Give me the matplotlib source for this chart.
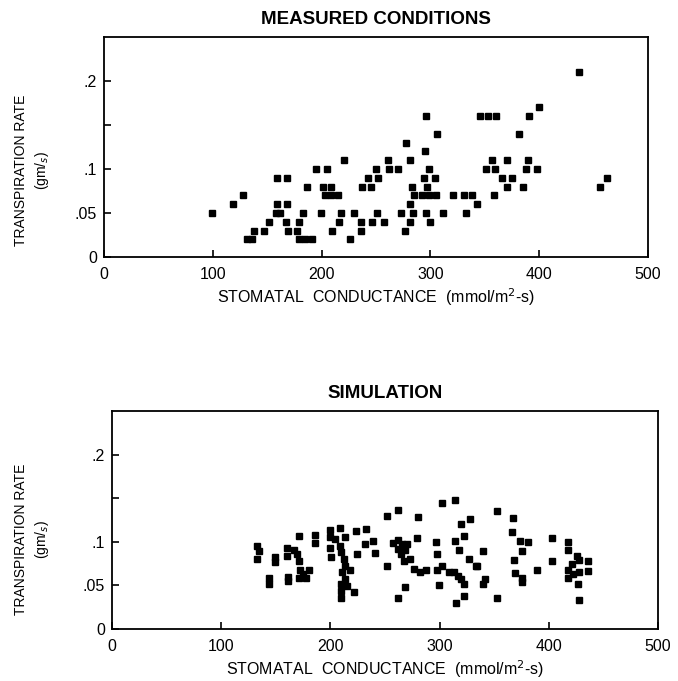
import matplotlib
matplotlib.use("Agg")
import matplotlib.pyplot as plt

plt.rcParams["font.family"] = ["Liberation Sans", "DejaVu Sans"]

# measured conditions (stomatal conductance, transpiration rate)
meas_x = [99, 119, 128, 131, 136, 138, 147, 152, 159, 168, 159, 168, 158, 162, 167, 169,
          177, 179, 183, 179, 185, 191, 187, 195, 199, 205, 201, 209, 203, 209, 215, 210,
          216, 218, 221, 226, 230, 236, 236, 237, 245, 246, 250, 243, 252, 251, 257, 261,
          262, 270, 273, 278, 277, 281, 283, 281, 284, 281, 285, 292, 299, 305, 295, 296,
          299, 294, 304, 297, 296, 300, 306, 312, 321, 331, 338, 333, 343, 346, 353, 360,
          357, 370, 351, 359, 366, 375, 370, 358, 437, 400, 391, 381, 390, 388, 398, 385,
          456, 462]
meas_y = [0.05, 0.06, 0.07, 0.02, 0.02, 0.03, 0.03, 0.04, 0.09, 0.09, 0.06, 0.06, 0.05, 0.05,
          0.04, 0.03, 0.03, 0.04, 0.05, 0.02, 0.02, 0.02, 0.08, 0.10, 0.05, 0.10, 0.08, 0.08,
          0.07, 0.07, 0.07, 0.03, 0.04, 0.05, 0.11, 0.02, 0.05, 0.04, 0.03, 0.08, 0.08, 0.04,
          0.10, 0.09, 0.09, 0.05, 0.04, 0.11, 0.10, 0.10, 0.05, 0.13, 0.03, 0.11, 0.08, 0.06,
          0.05, 0.04, 0.07, 0.07, 0.07, 0.07, 0.12, 0.16, 0.10, 0.09, 0.09, 0.08, 0.05, 0.04,
          0.14, 0.05, 0.07, 0.07, 0.07, 0.05, 0.06, 0.16, 0.16, 0.16, 0.11, 0.11, 0.10, 0.10,
          0.09, 0.09, 0.08, 0.07, 0.21, 0.17, 0.16, 0.14, 0.11, 0.10, 0.10, 0.08, 0.08, 0.09]

# simulation
sim_x = [133, 135, 133, 149, 149, 144, 144, 160, 160, 161, 161, 171, 167, 169, 171, 172,
         175, 178, 171, 180, 186, 186, 200, 209, 200, 204, 213, 200, 201, 209, 210, 212,
         213, 218, 211, 213, 210, 210, 210, 215, 222, 224, 223, 233, 232, 239, 241, 252,
         262, 252, 280, 302, 314, 257, 262, 266, 270, 262, 268, 265, 267, 273, 277, 282,
         288, 279, 268, 262, 297, 298, 302, 298, 299, 309, 314, 318, 322, 320, 328, 313,
         317, 320, 322, 322, 315, 327, 333, 353, 367, 366, 374, 381, 375, 340, 334, 368,
         389, 369, 375, 375, 342, 340, 353, 403, 403, 418, 418, 426, 428, 436, 421, 418,
         422, 418, 428, 436, 427, 428]
sim_y = [0.095, 0.089, 0.080, 0.082, 0.077, 0.058, 0.052, 0.093, 0.084, 0.060, 0.055, 0.107,
         0.091, 0.086, 0.078, 0.068, 0.063, 0.059, 0.059, 0.068, 0.108, 0.099, 0.114, 0.116,
         0.105, 0.103, 0.105, 0.093, 0.083, 0.095, 0.088, 0.080, 0.072, 0.068, 0.065, 0.057,
         0.052, 0.043, 0.035, 0.049, 0.042, 0.086, 0.112, 0.115, 0.097, 0.101, 0.087, 0.129,
         0.136, 0.072, 0.128, 0.145, 0.148, 0.099, 0.102, 0.097, 0.098, 0.092, 0.090, 0.086,
         0.078, 0.080, 0.069, 0.065, 0.068, 0.104, 0.048, 0.035, 0.100, 0.086, 0.072, 0.068,
         0.051, 0.065, 0.101, 0.091, 0.107, 0.120, 0.126, 0.065, 0.061, 0.057, 0.052, 0.038,
         0.030, 0.080, 0.072, 0.135, 0.127, 0.111, 0.101, 0.100, 0.089, 0.089, 0.072, 0.079,
         0.068, 0.064, 0.059, 0.054, 0.057, 0.052, 0.036, 0.104, 0.078, 0.100, 0.090, 0.084,
         0.079, 0.078, 0.074, 0.068, 0.063, 0.058, 0.065, 0.066, 0.052, 0.033]

x_ticks = [0, 100, 200, 300, 400, 500]
y_ticks = [0, 0.05, 0.1, 0.15, 0.2]
y_labels = ["0", ".05", ".1", "", ".2"]


def style(ax, title, label_xy):
    ax.set_xlim(0, 500)
    ax.set_ylim(0, 0.25)
    ax.set_xticks(x_ticks)
    ax.set_xticklabels([str(t) for t in x_ticks])
    ax.set_yticks(y_ticks)
    ax.set_yticklabels(y_labels)
    ax.tick_params(direction="in", length=5, width=1.2, labelsize=11.5)
    ax.tick_params(axis="x", pad=7)
    ax.tick_params(axis="y", pad=5)
    for s in ax.spines.values():
        s.set_linewidth(1.3)
    ax.set_title(title, fontsize=13.5, fontweight="bold", pad=9)
    ax.set_xlabel("STOMATAL  CONDUCTANCE  (mmol/m$^{2}$-s)", fontsize=11.5, labelpad=3)
    ax.set_ylabel("TRANSPIRATION RATE\n(gm/$_{s}$)", fontsize=10, linespacing=1.4)
    ax.yaxis.set_label_coords(*label_xy)


fig = plt.figure(figsize=(6.78, 6.81), dpi=100)
ax1 = fig.add_axes([0.1534, 0.6226, 0.8024, 0.3231])
ax2 = fig.add_axes([0.1652, 0.0764, 0.8053, 0.3201])

ax1.plot(meas_x, meas_y, "s", color="black", markersize=5)
ax2.plot(sim_x, sim_y, "s", color="black", markersize=5)

style(ax1, "MEASURED CONDITIONS", (-0.097, 0.395))
style(ax2, "SIMULATION", (-0.111, 0.41))

fig.savefig("out.png", dpi=100)
